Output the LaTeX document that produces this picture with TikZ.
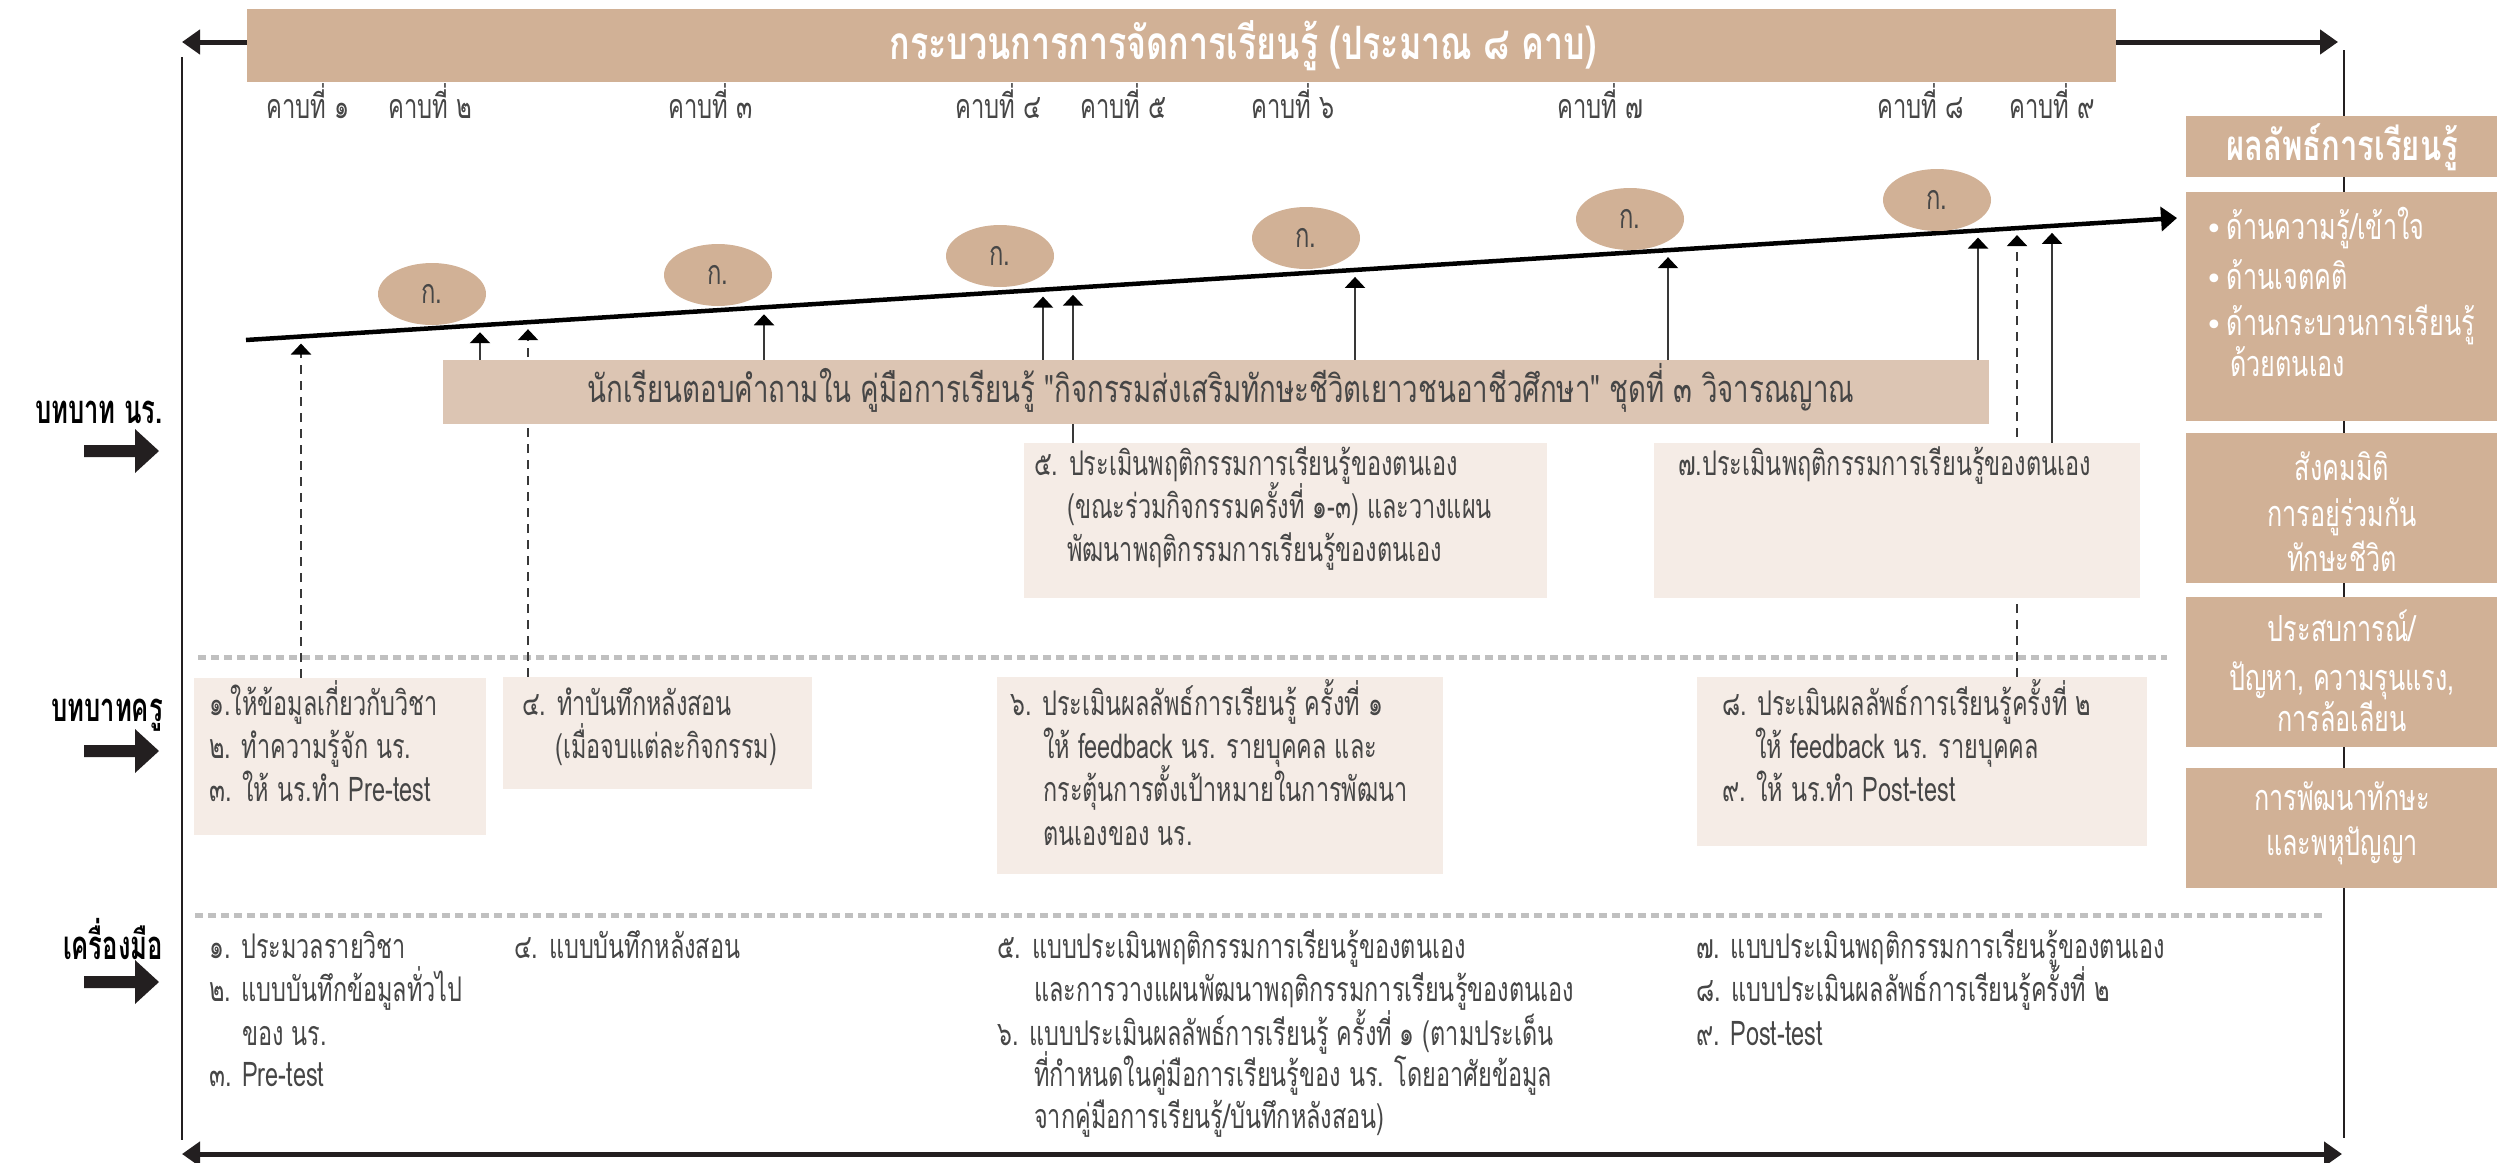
\documentclass[tikz,border=0pt]{standalone}
\usepackage{fontspec}
\usetikzlibrary{arrows.meta,shapes.geometric}
\newfontfamily\thr[Script=Thai,FakeStretch=0.69]{Loma}
\newfontfamily\thk[Script=Thai,FakeStretch=0.70]{Loma}
\newfontfamily\thn[Script=Thai,FakeStretch=0.727]{Loma}
\newfontfamily\thb[Script=Thai,FakeStretch=0.64]{Loma Bold}
\newfontfamily\tht[Script=Thai,FakeStretch=0.74]{Loma Bold}
\newfontfamily\dv{DejaVu Sans}
\definecolor{tanc}{RGB}{209,177,150}
\definecolor{bandc}{RGB}{220,197,179}
\definecolor{pale}{RGB}{245,236,230}
\definecolor{dotg}{RGB}{192,192,192}
\definecolor{txtc}{RGB}{70,70,70}
\definecolor{blk}{RGB}{35,31,32}
\pgfdeclarelayer{back}
\pgfsetlayers{back,main}
\begin{document}
\begin{tikzpicture}[x=1pt,y=-1pt,
  bt/.style={font=\thr\fontsize{34}{40}\selectfont,text=txtc,inner sep=0pt,anchor=base west},
  kt/.style={font=\thk\fontsize{34}{40}\selectfont,text=txtc,inner sep=0pt,anchor=base west},
  wt/.style={font=\thk\fontsize{36}{42}\selectfont,text=white,inner sep=0pt,anchor=base},
  wtl/.style={font=\thk\fontsize{36}{42}\selectfont,text=white,inner sep=0pt,anchor=base west},
  lb/.style={font=\thb\fontsize{40}{48}\selectfont,text=black,inner sep=0pt,anchor=base east},
  fillbox/.style={inner sep=0pt,outer sep=0pt,draw=none},
  shaft/.style={line width=2.2pt,draw=black!78,-{Triangle[width=20pt,length=11pt,color=black]}},
  dsh/.style={dash pattern=on 9pt off 7pt},
  dotline/.style={line width=5pt,draw=dotg,dash pattern=on 8pt off 5pt},
  bigarrow/.style={line width=5pt,draw=blk},
  ell/.style={ellipse,fill=tanc,minimum width=108pt,minimum height=62pt,inner sep=0pt,font=\thk\fontsize{34}{40}\selectfont,text=txtc},
]
\useasboundingbox (0,0) rectangle (2502,1162);

% ---------- boxes ----------
\node[fillbox,fill=tanc,minimum width=1869pt,minimum height=73pt] (banner) at (1181.5,45.5) {};
\node[fillbox,fill=bandc,minimum width=1546pt,minimum height=64pt] (band) at (1216,392) {};
\node[fillbox,fill=pale,minimum width=523pt,minimum height=155pt] (b5) at (1285.5,520.5) {};
\node[fillbox,fill=pale,minimum width=486pt,minimum height=155pt] (b7) at (1897,520.5) {};
\node[fillbox,fill=pale,minimum width=292pt,minimum height=157pt] (t1) at (340,756.5) {};
\node[fillbox,fill=pale,minimum width=309pt,minimum height=112pt] (t4) at (657.5,733) {};
\node[fillbox,fill=pale,minimum width=446pt,minimum height=197pt] (t6) at (1220,775.5) {};
\node[fillbox,fill=pale,minimum width=450pt,minimum height=169pt] (t8) at (1922,761.5) {};
\node[fillbox,fill=tanc,minimum width=311pt,minimum height=61pt] (r0) at (2341.5,146.5) {};
\node[fillbox,fill=tanc,minimum width=311pt,minimum height=229pt] (r1) at (2341.5,306.5) {};
\node[fillbox,fill=tanc,minimum width=311pt,minimum height=150pt] (r2) at (2341.5,508) {};
\node[fillbox,fill=tanc,minimum width=311pt,minimum height=150pt] (r3) at (2341.5,672) {};
\node[fillbox,fill=tanc,minimum width=311pt,minimum height=120pt] (r4) at (2341.5,828) {};

% ---------- ellipses ----------
\node[ell] (e1) at (432,294) {ก.};
\node[ell] (e2) at (718,275) {ก.};
\node[ell] (e3) at (1000,256) {ก.};
\node[ell] (e4) at (1306,238) {ก.};
\node[ell] (e5) at (1630,219) {ก.};
\node[ell] (e6) at (1937,200) {ก.};

% ---------- coordinates ----------
\coordinate (tl) at (182,42);
\coordinate (tr) at (2338,42);
\coordinate (bl) at (182,1154);
\coordinate (br) at (2342,1154);
\coordinate (lv0) at (182,57);
\coordinate (lv1) at (182,1140);
\coordinate (rv0) at (2344,50);
\coordinate (rv1) at (2344,1138);
\coordinate (d1a) at (198,657);
\coordinate (d1b) at (2167,657);
\coordinate (d2a) at (195,915);
\coordinate (d2b) at (2322,915);
\coordinate (s0) at (246,340);
\coordinate (s1) at (2177,218);
\coordinate (ua) at (301,{340-0.0632*(301-246)+7});
\coordinate (ub) at (480,{340-0.0632*(480-246)+7});
\coordinate (uc) at (528,{340-0.0632*(528-246)+7});
\coordinate (ud) at (764,{340-0.0632*(764-246)+7});
\coordinate (ue) at (1043,{340-0.0632*(1043-246)+7});
\coordinate (uf) at (1073,{340-0.0632*(1073-246)+7});
\coordinate (uh) at (1355,{340-0.0632*(1355-246)+7});
\coordinate (ui) at (1668,{340-0.0632*(1668-246)+7});
\coordinate (uj) at (1978,{340-0.0632*(1978-246)+7});
\coordinate (uk) at (2017,{340-0.0632*(2017-246)+7});
\coordinate (ul) at (2052,{340-0.0632*(2052-246)+7});

\begin{pgfonlayer}{back}
\draw[bigarrow,{Triangle[width=24pt,length=18pt]}-{Triangle[width=24pt,length=18pt]}] (tl) -- (tr);
\draw[bigarrow,{Triangle[width=24pt,length=18pt]}-{Triangle[width=24pt,length=18pt]}] (bl) -- (br);
\draw[line width=2pt,draw=blk] (lv0) -- (lv1);
\draw[line width=2pt,draw=blk] (rv0) -- (rv1);
\draw[dotline] (d1a) -- (d1b);
\draw[dotline] (d2a) -- (d2b);
\draw[line width=4.5pt,draw=black,-{Triangle[width=24pt,length=16pt]}] (s0) -- (s1);
\draw[shaft,dsh] (t1.north -| ua) -- (ua);
\draw[shaft] (band.north -| ub) -- (ub);
\draw[shaft,dsh] (t4.north -| uc) -- (uc);
\draw[shaft] (band.north -| ud) -- (ud);
\draw[shaft] (band.north -| ue) -- (ue);
\draw[shaft] (b5.north -| uf) -- (uf);
\draw[shaft] (band.north -| uh) -- (uh);
\draw[shaft] (band.north -| ui) -- (ui);
\draw[shaft] (band.north -| uj) -- (uj);
\draw[shaft,dsh] (t8.north -| uk) -- (uk);
\draw[shaft] (b7.north -| ul) -- (ul);
\end{pgfonlayer}

% ---------- block arrows at left ----------
\fill[blk] (84,445) -- (135,445) -- (135,429) -- (159,451) -- (135,473) -- (135,457) -- (84,457) -- cycle;
\fill[blk] (84,745) -- (135,745) -- (135,729) -- (159,751) -- (135,773) -- (135,757) -- (84,757) -- cycle;
\fill[blk] (84,976) -- (135,976) -- (135,960) -- (159,982) -- (135,1004) -- (135,988) -- (84,988) -- cycle;

% ---------- texts ----------
\node[font=\tht\fontsize{46}{54}\selectfont,text=white,inner sep=0pt,anchor=base] (title) at (1243,59) {กระบวนการการจัดการเรียนรู้ (ประมาณ ๘ คาบ)};

\node[kt] (k1) at (266,118) {คาบที่ ๑};
\node[kt] (k2) at (388,118) {คาบที่ ๒};
\node[kt] (k3) at (668,118) {คาบที่ ๓};
\node[kt] (k4) at (955,118) {คาบที่ ๔};
\node[kt] (k5) at (1080,118) {คาบที่ ๕};
\node[kt] (k6) at (1251,118) {คาบที่ ๖};
\node[kt] (k7) at (1557,118) {คาบที่ ๗};
\node[kt] (k8) at (1877,118) {คาบที่ ๘};
\node[kt] (k9) at (2009,118) {คาบที่ ๙};

\node[font=\thn\fontsize{38}{44}\selectfont,text=txtc,inner sep=0pt,anchor=base] (bandtxt) at (1221,402) {นักเรียนตอบคำถามใน คู่มือการเรียนรู้ "กิจกรรมส่งเสริมทักษะชีวิตเยาวชนอาชีวศึกษา" ชุดที่ ๓ วิจารณญาณ};

\node[bt] (b5a) at (1034,475) {๕. ประเมินพฤติกรรมการเรียนรู้ของตนเอง};
\node[bt] (b5b) at (1067,518) {(ขณะร่วมกิจกรรมครั้งที่ ๑-๓) และวางแผน};
\node[bt] (b5c) at (1067,561) {พัฒนาพฤติกรรมการเรียนรู้ของตนเอง};
\node[bt] (b7a) at (1678,475) {๗.ประเมินพฤติกรรมการเรียนรู้ของตนเอง};

\node[bt] (t1a) at (209,715) {๑.ให้ข้อมูลเกี่ยวกับวิชา};
\node[bt] (t1b) at (209,758) {๒. ทำความรู้จัก นร.};
\node[bt] (t1c) at (209,801) {๓. ให้ นร.ทำ Pre-test};
\node[bt] (t4a) at (522,715) {๔. ทำบันทึกหลังสอน};
\node[bt] (t4b) at (555,758) {(เมื่อจบแต่ละกิจกรรม)};
\node[bt] (t6a) at (1010,715) {๖. ประเมินผลลัพธ์การเรียนรู้ ครั้งที่ ๑};
\node[bt] (t6b) at (1043,758) {ให้ feedback นร. รายบุคคล และ};
\node[bt] (t6c) at (1043,801) {กระตุ้นการตั้งเป้าหมายในการพัฒนา};
\node[bt] (t6d) at (1043,845) {ตนเองของ นร.};
\node[bt] (t8a) at (1722,715) {๘. ประเมินผลลัพธ์การเรียนรู้ครั้งที่ ๒};
\node[bt] (t8b) at (1755,758) {ให้ feedback นร. รายบุคคล};
\node[bt] (t8c) at (1722,801) {๙. ให้ นร.ทำ Post-test};

\node[bt] (m1) at (209,958) {๑. ประมวลรายวิชา};
\node[bt] (m2) at (209,1001) {๒. แบบบันทึกข้อมูลทั่วไป};
\node[bt] (m2b) at (242,1045) {ของ นร.};
\node[bt] (m3) at (209,1086) {๓. Pre-test};
\node[bt] (m4) at (514,958) {๔. แบบบันทึกหลังสอน};
\node[bt] (m5) at (997,958) {๕. แบบประเมินพฤติกรรมการเรียนรู้ของตนเอง};
\node[bt] (m5b) at (1034,1001) {และการวางแผนพัฒนาพฤติกรรมการเรียนรู้ของตนเอง};
\node[bt] (m6) at (997,1045) {๖. แบบประเมินผลลัพธ์การเรียนรู้ ครั้งที่ ๑ (ตามประเด็น};
\node[bt] (m6b) at (1034,1086) {ที่กำหนดในคู่มือการเรียนรู้ของ นร. โดยอาศัยข้อมูล};
\node[bt] (m6c) at (1034,1128) {จากคู่มือการเรียนรู้/บันทึกหลังสอน)};
\node[bt] (m7) at (1696,958) {๗. แบบประเมินพฤติกรรมการเรียนรู้ของตนเอง};
\node[bt] (m8) at (1696,1001) {๘. แบบประเมินผลลัพธ์การเรียนรู้ครั้งที่ ๒};
\node[bt] (m9) at (1696,1045) {๙. Post-test};

\node[lb] (lab1) at (163,423) {บทบาท นร.};
\node[lb] (lab2) at (163,721) {บทบาทครู};
\node[lb] (lab3) at (163,959) {เครื่องมือ};

\node[font=\tht\fontsize{42}{50}\selectfont,text=white,inner sep=0pt,anchor=base] (r0t) at (2342,160) {ผลลัพธ์การเรียนรู้};

\node[wtl] (r1a) at (2205,239) {{\dv\fontsize{30}{34}\selectfont •}\hspace{4pt}ด้านความรู้/เข้าใจ};
\node[wtl] (r1b) at (2205,289) {{\dv\fontsize{30}{34}\selectfont •}\hspace{4pt}ด้านเจตคติ};
\node[wtl] (r1c) at (2205,335) {{\dv\fontsize{30}{34}\selectfont •}\hspace{4pt}ด้านกระบวนการเรียนรู้};
\node[wtl] (r1d) at (2230,376) {ด้วยตนเอง};

\node[wt] (r2a) at (2342,480) {สังคมมิติ};
\node[wt] (r2b) at (2342,526) {การอยู่ร่วมกัน};
\node[wt] (r2c) at (2342,571) {ทักษะชีวิต};
\node[wt] (r3a) at (2342,641) {ประสบการณ์/};
\node[wt] (r3b) at (2342,690) {ปัญหา, ความรุนแรง,};
\node[wt] (r3c) at (2342,731) {การล้อเลียน};
\node[wt] (r4a) at (2342,810) {การพัฒนาทักษะ};
\node[wt] (r4b) at (2342,855) {และพหุปัญญา};
\end{tikzpicture}
\end{document}
